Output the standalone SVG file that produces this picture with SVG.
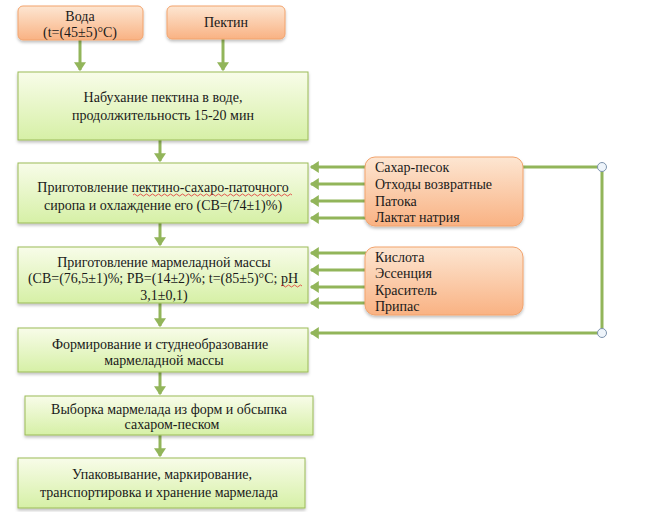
<svg xmlns="http://www.w3.org/2000/svg" width="648" height="512" viewBox="0 0 648 512">
<defs>
<linearGradient id="gGreen" x1="0" y1="0" x2="0" y2="1"><stop offset="0" stop-color="#f8fce9"/><stop offset="1" stop-color="#d6f0a6"/></linearGradient>
<linearGradient id="gOrange" x1="0" y1="0" x2="0" y2="1"><stop offset="0" stop-color="#fde6d2"/><stop offset="1" stop-color="#f9b283"/></linearGradient>
<filter id="sh" x="-10%" y="-10%" width="120%" height="130%"><feDropShadow dx="0" dy="2" stdDeviation="1.5" flood-color="#000" flood-opacity="0.25"/></filter>
<marker id="ah" markerWidth="4" markerHeight="4" refX="2.6" refY="2" orient="auto" markerUnits="strokeWidth"><path d="M0,0 L3,2 L0,4 Z" fill="#92b55a"/></marker>
<style>
.gb{fill:url(#gGreen);stroke:#9bbb59;stroke-width:1;filter:url(#sh)}
.ob{fill:url(#gOrange);stroke:#f2a36d;stroke-width:1;filter:url(#sh)}
.t{font-family:"Liberation Serif","Times New Roman",serif;font-size:14px;fill:#1a1a1a}
.c{text-anchor:middle}
.ln{stroke:#92b55a;stroke-width:3;fill:none}
.ar{stroke:#92b55a;stroke-width:3;fill:none;marker-end:url(#ah)}
.sp{stroke:#e03030;stroke-width:0.8;fill:none}
</style>
</defs>
<rect width="648" height="512" fill="#fff"/>
<g id="connectors">
<line class="ar" x1="80" y1="40" x2="80" y2="70"/>
<line class="ar" x1="223" y1="39" x2="223" y2="70"/>
<line class="ar" x1="160" y1="140" x2="160" y2="161"/>
<line class="ar" x1="160" y1="223" x2="160" y2="245"/>
<line class="ar" x1="160" y1="303" x2="160" y2="326"/>
<line class="ar" x1="160" y1="372" x2="160" y2="394"/>
<line class="ar" x1="160" y1="435" x2="160" y2="456"/>
<line class="ar" x1="366" y1="167" x2="311" y2="167"/>
<line class="ar" x1="366" y1="184" x2="311" y2="184"/>
<line class="ar" x1="366" y1="201" x2="311" y2="201"/>
<line class="ar" x1="366" y1="218" x2="311" y2="218"/>
<line class="ar" x1="366" y1="253" x2="311" y2="253"/>
<line class="ar" x1="366" y1="270" x2="311" y2="270"/>
<line class="ar" x1="366" y1="287" x2="311" y2="287"/>
<line class="ar" x1="366" y1="303" x2="311" y2="303"/>
<polyline class="ln" points="523,167 602,167 602,333"/>
<line class="ar" x1="602" y1="333" x2="311" y2="333"/>
<circle cx="602" cy="167" r="4.5" fill="#eef4fa" stroke="#7d93ad" stroke-width="1"/>
<circle cx="602" cy="333" r="4.5" fill="#eef4fa" stroke="#7d93ad" stroke-width="1"/>
</g>
<g id="n-voda">
<rect class="ob" x="18" y="6" width="125" height="34" rx="5"/>
<text class="t c" x="80" y="21">Вода</text>
<text class="t c" x="80" y="37">(t=(45±5)°С)</text>
</g>
<g id="n-pektin">
<rect class="ob" x="167" y="6" width="118" height="33" rx="5"/>
<text class="t c" x="226" y="27">Пектин</text>
</g>
<g id="n-nabuhanie">
<rect class="gb" x="18" y="72" width="290" height="68"/>
<text class="t c" x="163" y="102">Набухание пектина в воде,</text>
<text class="t c" x="163" y="120">продолжительность 15-20 мин</text>
</g>
<g id="n-sirop">
<rect class="gb" x="18" y="163" width="290" height="60"/>
<text class="t c" x="163" y="192">Приготовление пектино-сахаро-паточного</text>
<text class="t c" x="163" y="210">сиропа и охлаждение его (СВ=(74±1)%)</text>
<path class="sp" d="M133,195 q1.5,-2 3,0 t3,0 t3,0 t3,0 t3,0 t3,0 t3,0 t3,0 t3,0 t3,0 t3,0 t3,0 t3,0 t3,0 t3,0 t3,0 t3,0 t3,0 t3,0 t3,0 t3,0 t3,0 t3,0 t3,0 t3,0 t3,0 t3,0 t3,0 t3,0 t3,0 t3,0 t3,0 t3,0 t3,0 t3,0 t3,0 t3,0 t3,0 t3,0 t3,0 t3,0 t3,0 t3,0 t3,0 t3,0 t3,0 t3,0 t3,0 t3,0 t3,0 t3,0 t3,0 t3,0"/>
</g>
<g id="n-massa">
<rect class="gb" x="18" y="247" width="290" height="56"/>
<text class="t c" x="164" y="267">Приготовление мармеладной массы</text>
<text class="t c" x="163" y="283">(СВ=(76,5±1)%; РВ=(14±2)%; t=(85±5)°С; pH</text>
<text class="t c" x="164" y="300">3,1±0,1)</text>
<path class="sp" d="M281,286 q1.5,-2 3,0 t3,0 t3,0 t3,0 t3,0 t3,0 t3,0"/>
</g>
<g id="n-formirovanie">
<rect class="gb" x="18" y="328" width="290" height="44"/>
<text class="t c" x="160" y="349">Формирование и студнеобразование</text>
<text class="t c" x="164" y="365">мармеладной массы</text>
</g>
<g id="n-vyborka">
<rect class="gb" x="25" y="396" width="288" height="39"/>
<text class="t c" x="169" y="414">Выборка мармелада из форм и обсыпка</text>
<text class="t c" x="172" y="429">сахаром-песком</text>
</g>
<g id="n-upakovka">
<rect class="gb" x="18" y="458" width="287" height="50"/>
<text class="t c" x="162" y="479">Упаковывание, маркирование,</text>
<text class="t c" x="159" y="497">транспортировка и хранение мармелада</text>
</g>
<g id="n-sahar">
<rect class="ob" x="365" y="157" width="158" height="69" rx="10"/>
<text class="t" x="375" y="172">Сахар-песок</text>
<text class="t" x="375" y="189">Отходы возвратные</text>
<text class="t" x="375" y="206">Патока</text>
<text class="t" x="375" y="222">Лактат натрия</text>
</g>
<g id="n-kislota">
<rect class="ob" x="365" y="247" width="158" height="68" rx="10"/>
<text class="t" x="375" y="262">Кислота</text>
<text class="t" x="375" y="278">Эссенция</text>
<text class="t" x="375" y="295">Краситель</text>
<text class="t" x="375" y="311">Припас</text>
</g>
</svg>
